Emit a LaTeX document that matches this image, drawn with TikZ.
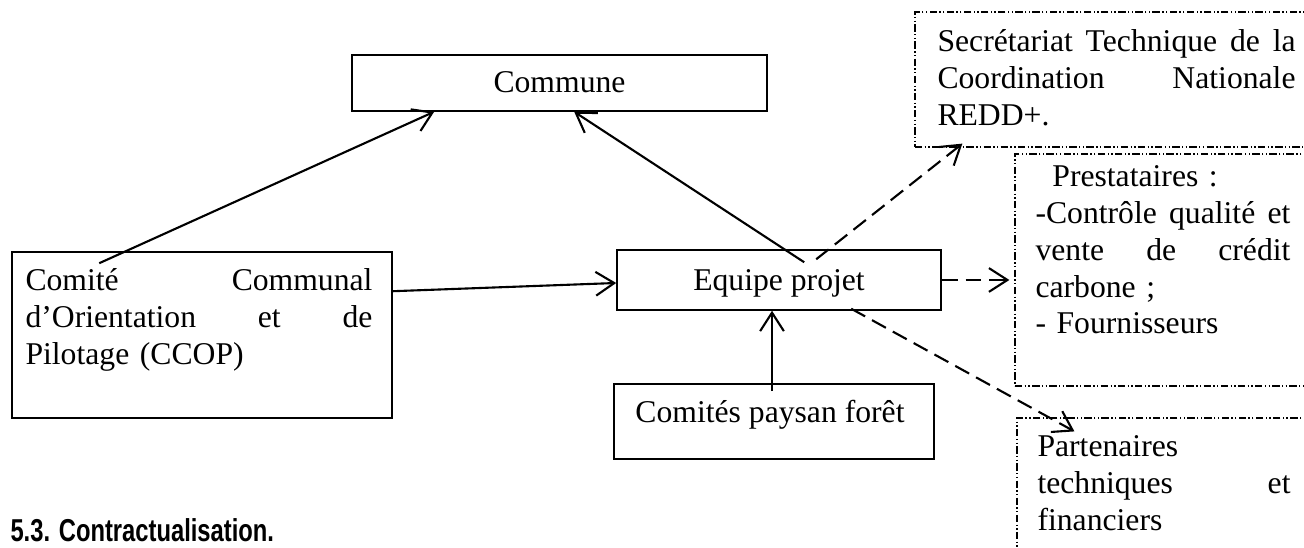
\documentclass[tikz,border=0pt]{standalone}
\usepackage{fontspec}
\setmainfont{Liberation Serif}
\newfontfamily\headfont[FakeStretch=0.75]{Liberation Sans}
\usetikzlibrary{arrows.meta,calc}
\begin{document}
\begin{tikzpicture}[x=0.379pt,y=-0.379pt,
  solidbox/.style={draw, line width=0.6pt, inner sep=0pt},
  dotbox/.style={draw, line width=0.45pt, inner sep=0pt,
    dash pattern=on 2.8pt off 0.9pt on 0.5pt off 0.9pt on 0.5pt off 0.9pt},
  txt/.style={inner sep=0pt, font=\fontsize{12}{13.9}\selectfont, align=left},
  link/.style={line width=0.8pt, -{Straight Barb[length=7pt,width=9pt]}},
  dlink/.style={link, dash pattern=on 6pt off 3pt}]
\useasboundingbox (0,0) rectangle (1304,548);
\fill[white] (0,0) rectangle (1304,548);
\clip (0,0) rectangle (1304,548);

% solid boxes
\node[solidbox, minimum width=157.3pt, minimum height=21.2pt] (commune) at (559.5,83) {};
\node[solidbox, minimum width=122.8pt, minimum height=22.7pt] (equipe) at (779,280) {};
\node[solidbox, minimum width=121.3pt, minimum height=28.4pt] (comites) at (774,421.5) {};
\node[solidbox, minimum width=144pt, minimum height=62.9pt] (ccop) at (202,335) {};

% dash-dot boxes (right side beyond the page)
\node[dotbox, minimum width=157.3pt, minimum height=51.2pt] (secr) at (1122.5,79.5) {};
\node[dotbox, minimum width=119.4pt, minimum height=87.9pt] (prest) at (1172.5,270) {};
\node[dotbox, minimum width=118.6pt, minimum height=57.6pt] (part) at (1173.5,494) {};

% texts
\node[txt, anchor=base] (tcommune) at (559.5,93) {Commune};
\node[txt, anchor=base] (tequipe) at (779,291) {Equipe projet};
\node[txt, anchor=base] (tcomites) at (770,423) {Comités paysan forêt};
\node[txt, anchor=base west, text width=131.5pt] (tccop) at (25,291)
  {Comité\hfill Communal\\ d’Orientation\hfill et\hfill de\\ Pilotage (CCOP)};
\node[txt, anchor=base west, text width=135.7pt] (tsecr) at (937,52)
  {Secrétariat\hfill Technique\hfill de\hfill la\\ Coordination\hfill Nationale\\ REDD+.};
\node[txt, anchor=base west, text width=96.6pt] (tprest) at (1035,187)
  {\hspace*{6.4pt}Prestataires :\\ -Contrôle\hfill qualité\hfill et\\ vente\hfill de\hfill crédit\\ carbone ;\\ - Fournisseurs};
\node[txt, anchor=base west, text width=95.9pt] (tpart) at (1037,457)
  {Partenaires\\ techniques\hfill et\\ financiers};
\node[inner sep=0pt, anchor=base west, font=\headfont\bfseries\fontsize{12}{14}\selectfont] (heading) at (10,542)
  {5.3. Contractualisation.};

% connectors
\draw[link] ($(ccop.north west)+(88,12)$) -- ($(commune.south west)+(83,0)$);
\draw[link] ($(equipe.north west)+(188,13)$) -- ($(commune.south west)+(223,0)$);
\draw[link] ($(ccop.north east)+(0,40)$) -- ($(equipe.west)+(0,3)$);
\draw[link] ($(comites.north)+(-2,8)$) -- ($(equipe.south)+(-7,0)$);
\draw[dlink] ($(equipe.north west)+(200,10)$) -- ($(secr.south west)+(48,-4)$);
\draw[dlink] (equipe.east) -- ($(prest.west|-equipe.east)+(-5,0)$);
\draw[dlink] ($(equipe.south west)+(235,-2)$) -- ($(part.north west)+(58,14)$);
\end{tikzpicture}
\end{document}
